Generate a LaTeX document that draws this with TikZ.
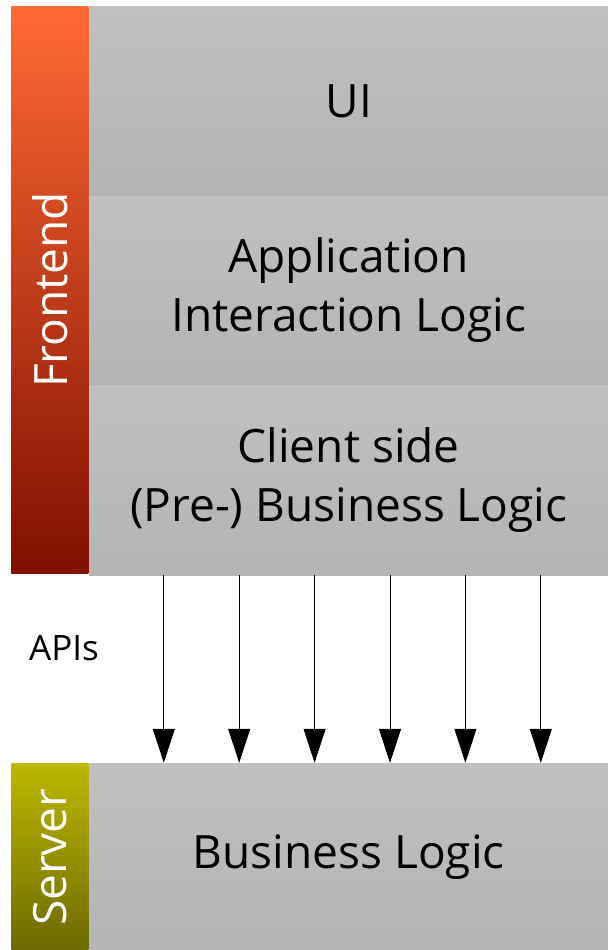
\documentclass[tikz,border=0pt]{standalone}
\usepackage{fontspec}
\setmainfont{Open Sans}
\usetikzlibrary{positioning, arrows.meta}
\definecolor{frontTop}{RGB}{255,106,53}
\definecolor{frontBot}{RGB}{128,15,0}
\definecolor{servTop}{RGB}{189,184,0}
\definecolor{servBot}{RGB}{107,105,0}
\definecolor{layerTop}{RGB}{192,192,192}
\definecolor{layerBot}{RGB}{180,180,180}
\newcommand{\layerfont}{\fontsize{23}{29.5}\selectfont}
\newcommand{\tierfont}{\fontsize{23}{26}\selectfont}

\begin{document}
\begin{tikzpicture}[
        layer/.style={minimum width=259.5pt, minimum height=94.5pt, inner sep=0pt, top color=layerTop, bottom color=layerBot, align=center, font=\layerfont},
        tier/.style={minimum width=38.5pt, inner sep=0pt, text=white, font=\tierfont},
        api/.style={-{Triangle[length=17pt,width=11pt]}, line width=0.5pt}
    ]
        \useasboundingbox (0,0) rectangle (303.5pt,-475pt);
        % frontend
        \node[tier, minimum height=283.5pt, top color=frontTop, bottom color=frontBot, anchor=north west] (frontend) at (5.5pt,-3pt) {\rotatebox{90}{Frontend}};
        \node[layer, anchor=north west] (ui) at (frontend.north east) {UI};
        \node[layer, minimum height=94pt, below=0pt of ui] (app) {Application\\Interaction Logic};
        \node[layer, minimum height=95pt, below=0pt of app] (client) {Client side\\(Pre-) Business Logic};
        % server
        \node[tier, minimum height=94pt, top color=servTop, bottom color=servBot, below=94.5pt of frontend] (server) {\rotatebox{90}{Server}};
        \node[layer, minimum height=94pt, anchor=north west] (logic) at (server.north east) {Business Logic};
        \node[font=\fontsize{17.5}{20}\selectfont] (apis) at (32pt,-324pt) {APIs};
        \foreach \i in {0,...,5}
            \draw[api] ([xshift={37.5pt+\i*37.7pt}]client.south west) -- ([xshift={37.5pt+\i*37.7pt}]logic.north west);
    \end{tikzpicture}
\end{document}
